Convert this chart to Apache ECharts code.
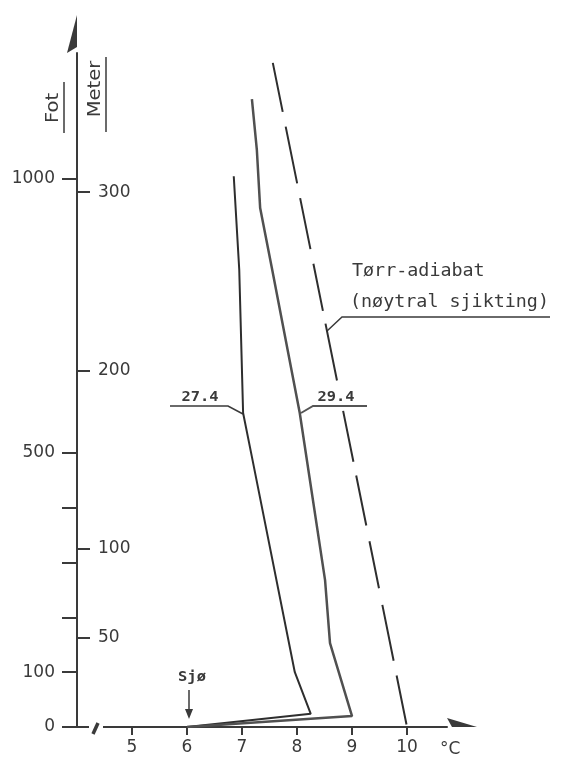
<!DOCTYPE html>
<html><head><meta charset="utf-8">
<script src="https://cdn.jsdelivr.net/npm/echarts@6/dist/echarts.min.js"></script>
<style>html,body{margin:0;padding:0;background:#fff}#c{width:567px;height:759px}</style>
</head><body><div id="c"></div>
<script>
// ---- data ----
const tempTicks = [5, 6, 7, 8, 9, 10];
const footTicks = [0, 100, 200, 300, 400, 500, 1000];
const footLabels = [0, 100, 500, 1000];
const meterTicks = [50, 100, 200, 300];
const temp274 = [6.0, 8.25, 7.96, 7.18, 7.02, 6.95, 6.85];
const height274 = [0, 24, 100, 493, 573, 834, 1005];
const temp294 = [6.0, 9.0, 8.6, 8.51, 8.05, 7.55, 7.33, 7.27, 7.18];
const height294 = [0, 20, 153, 268, 573, 834, 947, 1053, 1146];
const tempAdiabat = [7.56, 10.0];
const heightAdiabat = [1212, 0];

const INK = '#3a3a3a';
const NUM_FONT = '"DejaVu Sans", sans-serif';
const ANN_FONT = '"DejaVu Sans Mono", monospace';
const ADIABAT_DASH = [50, 15, 58, 15, 52, 15, 48, 13, 58, 31, 52, 14, 51, 16, 48, 17, 57, 15, 50, 20];
const zip = (xs, ys) => xs.map((x, i) => [x, ys[i]]);
const plain = v => String(v);

const chart = echarts.init(document.getElementById('c'), null, {renderer: 'canvas'});
chart.setOption({
  animation: false,
  backgroundColor: '#fff',
  grid: {left: 77, top: 53, right: 120, bottom: 32, containLabel: false},
  xAxis: {
    type: 'value', min: 4, max: 10.727,
    splitLine: {show: false},
    axisLine: {show: true, onZero: false,
      symbol: ['none', 'path://M9,0 L0,30 L9,25 Z M18,30'],
      symbolSize: [18, 30], symbolOffset: [0, 15],
      lineStyle: {color: INK, width: 2}},
    axisTick: {show: true, length: 8, customValues: tempTicks, lineStyle: {color: INK, width: 2}},
    axisLabel: {customValues: tempTicks, formatter: plain, margin: 12, color: INK, fontSize: 17, fontFamily: NUM_FONT}
  },
  yAxis: [{
    type: 'value', min: 0, max: 1230, position: 'left',
    splitLine: {show: false},
    axisLine: {show: true, onZero: false,
      symbol: ['none', 'path://M10,0 L0,38 L10,32 Z M20,38'],
      symbolSize: [20, 38], symbolOffset: [0, 19],
      lineStyle: {color: INK, width: 2}},
    axisTick: {show: true, length: 15, customValues: footTicks, lineStyle: {color: INK, width: 2}},
    axisLabel: {customValues: footLabels, formatter: plain, margin: 22, color: INK, fontSize: 17, fontFamily: NUM_FONT}
  }, {
    type: 'value', min: 0, max: 378, position: 'left',
    splitLine: {show: false},
    axisLine: {show: false},
    axisTick: {show: true, inside: true, length: 13, customValues: meterTicks, lineStyle: {color: INK, width: 2}},
    axisLabel: {inside: true, customValues: meterTicks, formatter: plain, margin: 21, color: INK, fontSize: 17, fontFamily: NUM_FONT}
  }],
  series: [{
    name: '27.4', type: 'line', yAxisIndex: 0, symbol: 'none',
    data: zip(temp274, height274),
    lineStyle: {color: '#2e2e2e', width: 2}
  }, {
    name: '29.4', type: 'line', yAxisIndex: 0, symbol: 'none',
    data: zip(temp294, height294),
    lineStyle: {color: '#505050', width: 2.5}
  }, {
    name: 'Tørr-adiabat', type: 'line', yAxisIndex: 0, symbol: 'none',
    data: zip(tempAdiabat, heightAdiabat),
    lineStyle: {color: '#2e2e2e', width: 2, type: ADIABAT_DASH}
  }],
  graphic: [
    // axis titles
    {type: 'text', x: 54, y: 108, rotation: Math.PI / 2, scaleX: 1.15,
      style: {text: 'Fot', font: '17px ' + NUM_FONT, fill: INK, align: 'center', verticalAlign: 'middle'}},
    {type: 'line', shape: {x1: 64, y1: 82, x2: 64, y2: 133}, style: {stroke: INK, lineWidth: 1.5}},
    {type: 'text', x: 96, y: 89, rotation: Math.PI / 2, scaleX: 1.15,
      style: {text: 'Meter', font: '17px ' + NUM_FONT, fill: INK, align: 'center', verticalAlign: 'middle'}},
    {type: 'line', shape: {x1: 106, y1: 57, x2: 106, y2: 132}, style: {stroke: INK, lineWidth: 1.5}},
    {type: 'text', x: 440, y: 750,
      style: {text: '°C', font: '17px ' + NUM_FONT, fill: INK, align: 'left', verticalAlign: 'middle'}},
    // axis break
    {type: 'rect', shape: {x: 89, y: 723, width: 14, height: 8}, style: {fill: '#fff'}, z: 100},
    {type: 'line', shape: {x1: 93, y1: 734, x2: 98, y2: 723}, style: {stroke: INK, lineWidth: 3.5}, z: 101},
    // Sjø
    {type: 'text', x: 192, y: 677, scaleX: 1.1,
      style: {text: 'Sjø', font: 'bold 14px ' + ANN_FONT, fill: INK, align: 'center', verticalAlign: 'middle'}},
    {type: 'line', shape: {x1: 189, y1: 690, x2: 189, y2: 712}, style: {stroke: INK, lineWidth: 1.5}},
    {type: 'polygon', shape: {points: [[185, 709], [193, 709], [189, 719]]}, style: {fill: INK}},
    // 27.4 label
    {type: 'text', x: 200, y: 397, scaleX: 1.1,
      style: {text: '27.4', font: 'bold 14px ' + ANN_FONT, fill: INK, align: 'center', verticalAlign: 'middle'}},
    {type: 'polyline', shape: {points: [[170, 406], [228, 406], [243, 414]]}, style: {stroke: INK, lineWidth: 1.5, fill: null}},
    // 29.4 label
    {type: 'text', x: 336, y: 397, scaleX: 1.1,
      style: {text: '29.4', font: 'bold 14px ' + ANN_FONT, fill: INK, align: 'center', verticalAlign: 'middle'}},
    {type: 'polyline', shape: {points: [[301, 413], [313, 406], [367, 406]]}, style: {stroke: '#555', lineWidth: 2, fill: null}},
    // dry adiabat label
    {type: 'text', x: 352, y: 272, scaleX: 1.08,
      style: {text: 'Tørr-adiabat', font: '17px ' + ANN_FONT, fill: INK, align: 'left', verticalAlign: 'middle'}},
    {type: 'text', x: 350, y: 303, scaleX: 1.08,
      style: {text: '(nøytral sjikting)', font: '17px ' + ANN_FONT, fill: INK, align: 'left', verticalAlign: 'middle'}},
    {type: 'polyline', shape: {points: [[327, 331], [342, 317], [550, 317]]}, style: {stroke: INK, lineWidth: 1.5, fill: null}}
  ]
});
</script>
</body></html>
